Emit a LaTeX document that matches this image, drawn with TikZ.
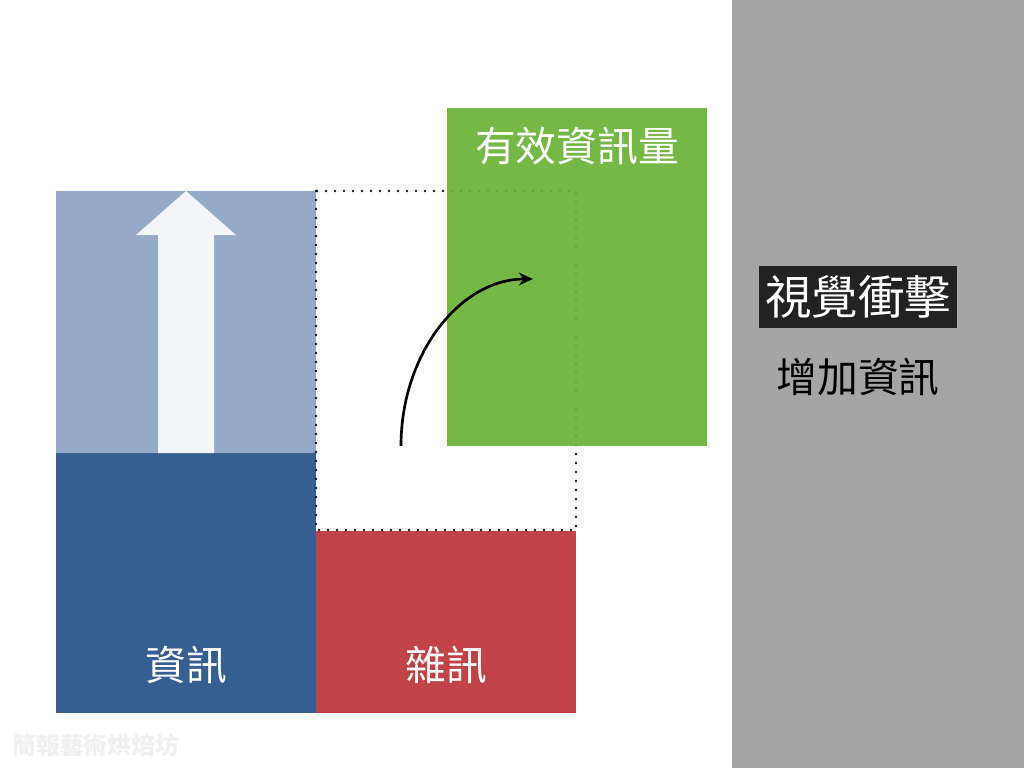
\documentclass[tikz,border=0pt]{standalone}
\usepackage{fontspec}
\setmainfont{Noto Sans CJK TC}
\usetikzlibrary{arrows.meta, positioning}
\definecolor{infoblue}{RGB}{54, 95, 145}
\definecolor{infolight}{RGB}{149, 170, 198}
\definecolor{noisered}{RGB}{194, 67, 71}
\definecolor{gaingreen}{RGB}{107, 178, 54}
\definecolor{sidegray}{RGB}{165, 165, 165}
\definecolor{arrowwhite}{RGB}{243, 245, 249}
\definecolor{tagblack}{RGB}{34, 34, 34}
\definecolor{markgray}{RGB}{240, 240, 240}

\begin{document}
\begin{tikzpicture}[x=0.025cm, y=-0.025cm,
  wlabel/.style={text=white, inner sep=0pt, font=\fontsize{29pt}{32pt}\selectfont},
  tagbox/.style={fill=tagblack, text=white, inner sep=0pt, minimum width=4.95cm, minimum height=1.55cm, font=\fontsize{33pt}{36pt}\selectfont},
  dotline/.style={draw=black!90, line width=2pt, line cap=round, dash pattern=on 0pt off 6.4pt}
]
  \useasboundingbox (0,0) rectangle (1024,768);
  \fill[white] (0,0) rectangle (1024,768);
  \fill[sidegray] (732,0) rectangle (1024,768);

  % information block and growth arrow
  \fill[infolight] (56,191) rectangle (316,453);
  \fill[infoblue] (56,453) rectangle (316,713);
  \fill[arrowwhite] (158,453) -- (158,235) -- (136,235) -- (186,191) -- (236,235) -- (214,235) -- (214,453) -- cycle;

  % noise block and its former place
  \fill[noisered] (316,531) rectangle (576,713);
  \draw[dotline] (316,191) rectangle (576,530);
  \fill[gaingreen, opacity=0.92] (447,108) rectangle (707,446);

  \coordinate (from) at (401,446);
  \coordinate (to) at (533,279);
  \draw[line width=1.9pt, -{Stealth[length=10pt, width=9pt]}] (from) .. controls (401,354) and (460,279) .. (to);

  \node[wlabel] (gain) at (577,146) {有效資訊量};
  \node[wlabel] (info) at (186,665) {資訊};
  \node[wlabel] (noise) at (446,665) {雜訊};

  \node[tagbox] (impact) at (858,297) {視覺衝擊};
  \node[inner sep=0pt, font=\fontsize{29pt}{32pt}\selectfont] (more) at (858,377) {增加資訊};

  \node[text=markgray, inner sep=0pt, anchor=west, font=\bfseries\fontsize{17pt}{20pt}\selectfont] (mark) at (12,745) {簡報藝術烘焙坊};
\end{tikzpicture}
\end{document}
